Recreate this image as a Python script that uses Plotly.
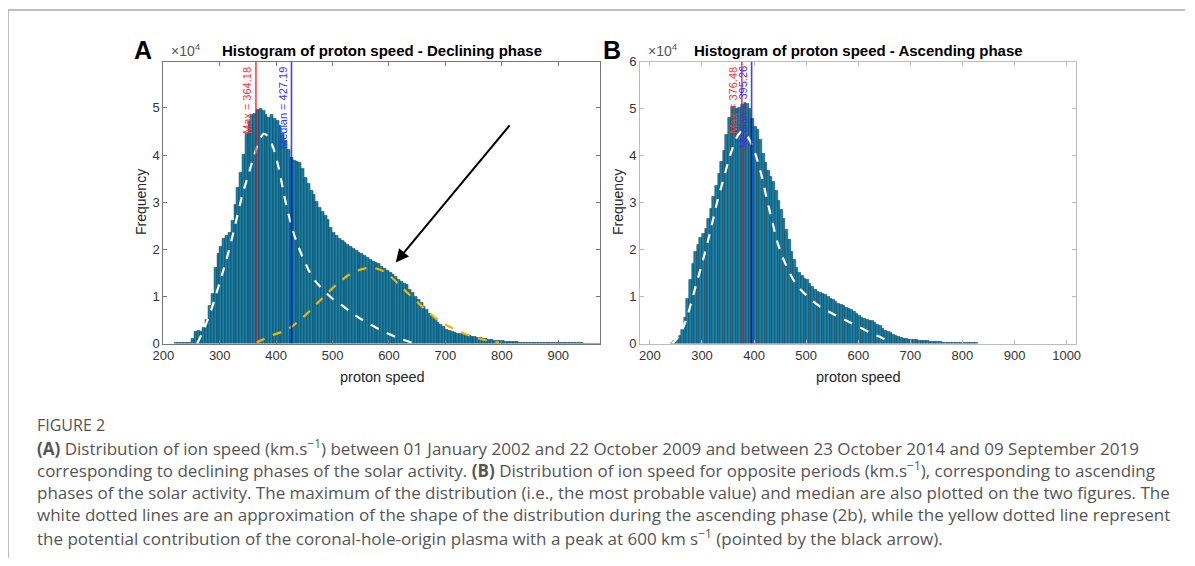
import numpy as np
import plotly.graph_objects as go

# the page body adds an 8px margin, so the figure is drawn 16px smaller and shifted
OFF = 8
FW, FH = 1195 - 2 * OFF, 566 - 2 * OFF

# ---- data (frequency in units of 1e4) ----
bin_width = 5
a_first_bin = 220   # left edge of first bin, panel A
b_first_bin = 240   # left edge of first bin, panel B

freq_a = [
    0.01, 0.01, 0.01, 0.01, 0.01, 0.02, 0.10, 0.25, 0.27, 0.26,   # 220-270
    0.33, 0.50, 0.80, 1.05, 1.60, 1.90, 2.05, 2.22, 2.28, 2.35,   # 270-320
    2.60, 2.95, 3.30, 3.62, 4.00, 4.45, 4.70, 4.85, 4.88, 4.97,   # 320-370
    4.98, 4.93, 4.85, 4.80, 4.85, 4.78, 4.72, 4.62, 4.45, 4.30,   # 370-420
    4.12, 3.95, 3.88, 3.86, 3.84, 3.70, 3.52, 3.40, 3.25, 3.15,   # 420-470
    3.00, 2.88, 2.80, 2.72, 2.62, 2.45, 2.35, 2.28, 2.23, 2.18,   # 470-520
    2.14, 2.10, 2.06, 2.02, 1.97, 1.93, 1.90, 1.86, 1.82, 1.78,   # 520-570
    1.74, 1.71, 1.69, 1.64, 1.58, 1.54, 1.51, 1.47, 1.42, 1.36,   # 570-620
    1.31, 1.27, 1.24, 1.15, 1.08, 1.00, 0.93, 0.86, 0.79, 0.72,   # 620-670
    0.64, 0.56, 0.50, 0.45, 0.40, 0.35, 0.30, 0.27, 0.24, 0.22,   # 670-720
    0.21, 0.20, 0.19, 0.17, 0.16, 0.15, 0.14, 0.13, 0.12, 0.11,   # 720-770
    0.10, 0.09, 0.08, 0.07, 0.06, 0.055, 0.05, 0.045, 0.04, 0.035,  # 770-820
    0.03, 0.03, 0.025, 0.025, 0.02, 0.02, 0.02, 0.015, 0.015, 0.015,  # 820-870
    0.01, 0.01, 0.01, 0.01, 0.01, 0.01, 0.01, 0.01, 0.01, 0.01,   # 870-920
    0.01, 0.01, 0.008, 0.008, 0.008, 0.006, 0.006, 0.006, 0.005, 0.005,  # 920-970
    0.005, 0.005,                                                # 970-980
]

freq_b = [
    0.02, 0.05, 0.10, 0.17, 0.30, 0.55, 0.95, 1.35, 1.70, 1.95,   # 240-290
    2.10, 2.26, 2.33, 2.45, 2.65, 2.88, 3.12, 3.35, 3.62, 3.88,   # 290-340
    4.10, 4.45, 4.80, 5.05, 5.05, 5.00, 5.02, 5.08, 5.12, 5.10,   # 340-390
    5.00, 4.78, 4.62, 4.55, 4.35, 4.05, 3.85, 3.68, 3.55, 3.45,   # 390-440
    3.25, 3.05, 2.85, 2.65, 2.42, 2.20, 1.95, 1.78, 1.62, 1.50,   # 440-490
    1.44, 1.39, 1.35, 1.27, 1.20, 1.15, 1.11, 1.08, 1.06, 1.03,   # 490-540
    1.00, 0.96, 0.93, 0.89, 0.85, 0.82, 0.80, 0.77, 0.74, 0.71,   # 540-590
    0.68, 0.63, 0.59, 0.56, 0.53, 0.51, 0.49, 0.48, 0.44, 0.40,   # 590-640
    0.37, 0.32, 0.28, 0.25, 0.22, 0.19, 0.17, 0.15, 0.13, 0.11,   # 640-690
    0.10, 0.09, 0.085, 0.08, 0.075, 0.07, 0.06, 0.055, 0.05, 0.045,  # 690-740
    0.04, 0.035, 0.03, 0.03, 0.025, 0.02, 0.02, 0.02, 0.02, 0.015,   # 740-790
    0.015, 0.015, 0.015, 0.012, 0.012, 0.01, 0.01, 0.01,              # 790-830
]

# white dashed approximation curves
white_a_x = [260, 270, 280, 290, 300, 310, 320, 330, 340, 350, 360, 370, 378, 385, 395,
             405, 415, 425, 435, 450, 465, 480, 500, 520, 540, 560, 580, 600, 620, 640]
white_a_y = [0.0, 0.25, 0.55, 0.9, 1.3, 1.7, 2.15, 2.65, 3.15, 3.55, 3.95, 4.3, 4.45, 4.4, 4.15,
             3.7, 3.1, 2.6, 2.2, 1.75, 1.4, 1.18, 0.95, 0.78, 0.6, 0.45, 0.32, 0.2, 0.1, 0.02]

orange_a_x = [365, 390, 420, 450, 480, 510, 535, 560, 575, 595, 620, 645, 670, 695, 720, 745, 775, 795]
orange_a_y = [0.02, 0.16, 0.3, 0.58, 0.94, 1.28, 1.5, 1.6, 1.6, 1.5, 1.22, 0.94, 0.66, 0.44, 0.28, 0.16, 0.06, 0.02]

white_b_x = [242, 250, 260, 270, 280, 290, 300, 310, 320, 330, 340, 350, 360, 370, 378, 385,
             395, 405, 415, 425, 435, 445, 460, 480, 500, 525, 550, 575, 600, 625, 645, 660]
white_b_y = [0.0, 0.08, 0.25, 0.52, 0.9, 1.3, 1.7, 2.12, 2.58, 3.05, 3.45, 3.85, 4.2, 4.45, 4.52, 4.45,
             4.25, 3.95, 3.55, 3.05, 2.6, 2.15, 1.7, 1.28, 1.03, 0.8, 0.64, 0.5, 0.36, 0.22, 0.12, 0.03]

max_a, median_a = 364.18, 427.19
max_b, median_b = 376.48, 395.26

x_ticks_a = [200, 300, 400, 500, 600, 700, 800, 900]
x_ticks_b = [200, 300, 400, 500, 600, 700, 800, 900, 1000]

caption_lines = [
    "<b>(A)</b> Distribution of ion speed (km.s<sup>−1</sup>) between 01 January 2002 and 22 October 2009 and between 23 October 2014 and 09 September 2019",
    "corresponding to declining phases of the solar activity. <b>(B)</b> Distribution of ion speed for opposite periods (km.s<sup>−1</sup>), corresponding to ascending",
    "phases of the solar activity. The maximum of the distribution (i.e., the most probable value) and median are also plotted on the two figures. The",
    "white dotted lines are an approximation of the shape of the distribution during the ascending phase (2b), while the yellow dotted line represent",
    "the potential contribution of the coronal-hole-origin plasma with a peak at 600 km s<sup>−1</sup> (pointed by the black arrow).",
]


# page pixel -> paper fraction
def px(x):
    return (x - OFF) / FW


def py(y):
    return 1 - (y - OFF) / FH


centers_a = a_first_bin + bin_width / 2 + bin_width * np.arange(len(freq_a))
centers_b = b_first_bin + bin_width / 2 + bin_width * np.arange(len(freq_b))

BAR = "#1a82a9"
EDGE = "rgba(5,30,42,0.85)"

fig = go.Figure()
for cx, fy, xa, ya in [(centers_a, freq_a, "x", "y"), (centers_b, freq_b, "x2", "y2")]:
    fig.add_trace(go.Bar(x=cx, y=fy, width=bin_width, xaxis=xa, yaxis=ya,
                         marker=dict(color=BAR, line=dict(color=EDGE, width=0.5)),
                         showlegend=False))

fig.add_trace(go.Scatter(x=white_a_x, y=white_a_y, mode="lines", line_shape="spline",
                         line=dict(color="white", width=2.2, dash="dash"),
                         xaxis="x", yaxis="y", showlegend=False))
fig.add_trace(go.Scatter(x=orange_a_x, y=orange_a_y, mode="lines", line_shape="spline",
                         line=dict(color="#f2b400", width=2.2, dash="dash"),
                         xaxis="x", yaxis="y", showlegend=False))
fig.add_trace(go.Scatter(x=white_b_x, y=white_b_y, mode="lines", line_shape="spline",
                         line=dict(color="white", width=2.2, dash="dash"),
                         xaxis="x2", yaxis="y2", showlegend=False))

# max / median lines
shapes = []
annotations = []
for xr, yr, top, vmax, vmed in [("x", "y", 5.98, max_a, median_a), ("x2", "y2", 6.0, max_b, median_b)]:
    for v, col, tcol, label in [(vmax, "#ff0000", "#ff3333", "Max = %.2f" % vmax),
                                (vmed, "#0000ff", "#3333ff", "Median = %.2f" % vmed)]:
        shapes.append(dict(type="line", xref=xr, yref=yr, x0=v, x1=v, y0=0, y1=top,
                           line=dict(color=col, width=1.6), opacity=0.75))
        annotations.append(dict(xref=xr, yref=yr, x=v, y=top - 0.06, text=label, textangle=-90,
                                showarrow=False, xanchor="right", yanchor="top", xshift=-1,
                                font=dict(size=11, color=tcol)))

# page frame
shapes.append(dict(type="line", xref="paper", yref="paper", x0=px(8), x1=px(1185), y0=py(10), y1=py(10),
                   line=dict(color="#aaaaaa", width=1.5)))
shapes.append(dict(type="line", xref="paper", yref="paper", x0=px(8), x1=px(8), y0=py(10), y1=0,
                   line=dict(color="#aaaaaa", width=1.5)))

# arrow pointing at the fast-wind bump
annotations.append(dict(xref="x", yref="y", axref="x", ayref="y", x=612, y=1.72, ax=816, ay=4.66,
                        showarrow=True, arrowhead=2, arrowsize=1.3, arrowwidth=2, arrowcolor="black", text=""))

annotations += [
    dict(x=px(143), y=py(50), text="<b>A</b>", font=dict(size=25, color="black")),
    dict(x=px(612), y=py(50), text="<b>B</b>", font=dict(size=25, color="black")),
    dict(x=px(382), y=py(50), text="<b>Histogram of proton speed - Declining phase</b>", font=dict(size=15, color="black")),
    dict(x=px(858), y=py(50), text="<b>Histogram of proton speed - Ascending phase</b>", font=dict(size=15, color="black")),
    dict(x=px(186), y=py(50), text="×10<sup>4</sup>", font=dict(size=14, color="#555555")),
    dict(x=px(663), y=py(50), text="×10<sup>4</sup>", font=dict(size=14, color="#555555")),
    dict(x=px(141), y=py(202), text="Frequency", textangle=-90, font=dict(size=14, color="#262626")),
    dict(x=px(618), y=py(202), text="Frequency", textangle=-90, font=dict(size=14, color="#262626")),
    dict(x=px(382), y=py(377), text="proton speed", font=dict(size=14.5, color="#262626")),
    dict(x=px(858), y=py(377), text="proton speed", font=dict(size=14.5, color="#262626")),
    dict(x=px(35), y=py(425), text="FIGURE 2", xanchor="left", font=dict(size=16, color="#555555", family="Open Sans")),
]
for i, line in enumerate(caption_lines):
    annotations.append(dict(x=px(35), y=py(447 + 22.5 * i), text=line, xanchor="left",
                            font=dict(size=17, color="#555555", family="Open Sans")))
for a in annotations:
    a.setdefault("showarrow", False)
    a.setdefault("xref", "paper")
    a.setdefault("yref", "paper")
    a.setdefault("xanchor", "center")
    a.setdefault("yanchor", "middle")

axis_common = dict(showline=True, linewidth=1, mirror="ticks", ticks="inside", ticklen=4,
                   showgrid=False, zeroline=False, automargin=False,
                   tickfont=dict(size=13, color="#333333"))
ydom = [py(343.5), py(61.7)]

fig.update_layout(
    width=FW, height=FH, margin=dict(l=0, r=0, t=0, b=0, pad=0), autosize=False,
    paper_bgcolor="white", plot_bgcolor="white",
    font=dict(family="Liberation Sans, Arial, sans-serif"),
    bargap=0, barmode="overlay",
    xaxis=dict(domain=[px(163.3), px(600)], range=[200, 974], tickvals=x_ticks_a,
               linecolor="#777777", tickcolor="#777777", anchor="y", **axis_common),
    yaxis=dict(domain=ydom, range=[0, 5.98], tickvals=[0, 1, 2, 3, 4, 5],
               linecolor="#777777", tickcolor="#777777", anchor="x", **axis_common),
    xaxis2=dict(domain=[px(640), px(1076)], range=[181, 1018], tickvals=x_ticks_b,
                linecolor="#bbbbbb", tickcolor="#bbbbbb", anchor="y2", **axis_common),
    yaxis2=dict(domain=ydom, range=[0, 6], tickvals=[0, 1, 2, 3, 4, 5, 6],
                linecolor="#bbbbbb", tickcolor="#bbbbbb", anchor="x2", **axis_common),
    shapes=shapes, annotations=annotations,
)

fig.write_html("out.html")
